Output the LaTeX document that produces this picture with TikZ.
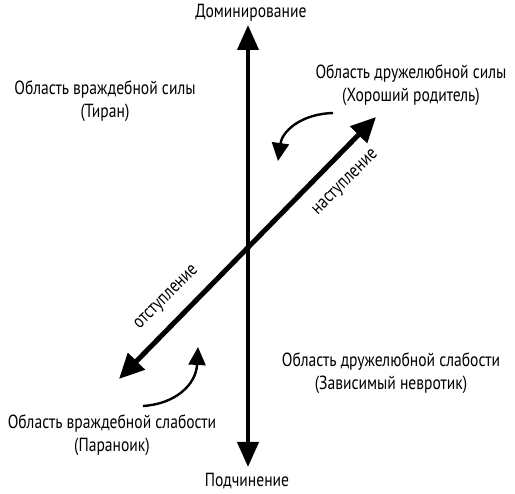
\documentclass[tikz,border=0pt]{standalone}
\usepackage{fontspec}
\setmainfont[FakeStretch=0.82]{PT Sans}
\usetikzlibrary{arrows.meta}
\begin{document}
\begin{tikzpicture}[x=1pt,y=-1pt,
  lbl/.style={font=\fontsize{19}{23}\selectfont, align=center, inner sep=0pt},
  axis/.style={line width=4pt, {Triangle[length=25pt,width=21pt]}-{Triangle[length=25pt,width=21pt]}},
  diag/.style={line width=5pt, {Triangle[length=25pt,width=23pt]}-{Triangle[length=25pt,width=23pt]}},
  turn/.style={line width=2.4pt, -{Triangle[length=18pt,width=17pt]}}]
\useasboundingbox (0,0) rectangle (515,494);
\coordinate (top) at (248,25);
\coordinate (bot) at (248,467);
\coordinate (ne) at (376,117);
\coordinate (sw) at (119,379);
\draw[axis] (bot) -- (top);
\draw[diag] (sw) -- (ne);
\coordinate (u1) at (333,113);
\coordinate (u2) at (278,161);
\coordinate (l1) at (143,406);
\coordinate (l2) at (198,347);
\draw[turn] (u1) .. controls (300,114) and (282,132) .. (u2);
\draw[turn] (l1) .. controls (175,404) and (196,385) .. (l2);
\node[lbl] (dom) at (251,13) {Доминирование};
\node[lbl] (pod) at (247,481) {Подчинение};
\node[lbl] (tl) at (105,101) {Область враждебной силы\\(Тиран)};
\node[lbl] (tr) at (411,85) {Область дружелюбной силы\\(Хороший родитель)};
\node[lbl] (br) at (391,373) {Область дружелюбной слабости\\(Зависимый невротик)};
\node[lbl] (bl) at (112,435) {Область враждебной слабости\\(Параноик)};
\node[lbl, rotate=45] (nas) at (346,183) {наступление};
\node[lbl, rotate=45] (ots) at (167,298) {отступление};
\end{tikzpicture}
\end{document}
